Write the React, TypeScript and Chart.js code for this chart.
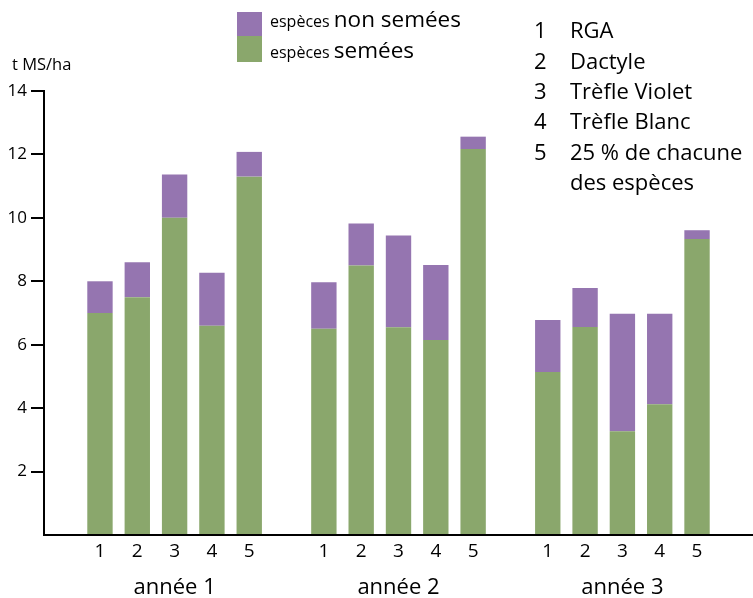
import React, { useEffect, useRef } from "react";
import { Chart, registerables } from "chart.js";

Chart.register(...registerables);

// ---- data ----
const years = ["année 1", "année 2", "année 3"];
const varieties = ["1", "2", "3", "4", "5"];
const seededY1 = [7.0, 7.5, 10.0, 6.6, 11.3];
const seededY2 = [6.5, 8.5, 6.55, 6.15, 12.17];
const seededY3 = [5.14, 6.56, 3.27, 4.12, 9.33];
const nonSeededY1 = [1.0, 1.1, 1.37, 1.67, 0.78];
const nonSeededY2 = [1.47, 1.32, 2.89, 2.36, 0.39];
const nonSeededY3 = [1.64, 1.23, 3.71, 2.86, 0.28];
const yTicks = [0, 2, 4, 6, 8, 10, 12, 14];
const yUnit = "t MS/ha";
const seriesSmall = ["espèces", "espèces"];
const seriesBig = ["non semées", "semées"];
const keyNumbers = ["1", "2", "3", "4", "5", ""];
const keyNames = ["RGA", "Dactyle", "Trèfle Violet", "Trèfle Blanc", "25 % de chacune", "des espèces"];

const GREEN = "#8aa76c";
const PURPLE = "#9575b0";
const FONT = "'Open Sans', sans-serif";

function spread(groups: number[][]): (number | null)[] {
  const out: (number | null)[] = [null];
  groups.forEach((g) => {
    g.forEach((v) => out.push(v));
    out.push(null);
  });
  return out;
}

const labels: string[] = [""];
years.forEach(() => {
  varieties.forEach((v) => labels.push(v));
  labels.push("");
});

export default function App() {
  const ref = useRef<HTMLCanvasElement | null>(null);
  useEffect(() => {
    if (!ref.current) return;
    const textPlugin = {
      id: "texts",
      afterDraw(chart: any) {
        const ctx = chart.ctx as CanvasRenderingContext2D;
        ctx.save();
        ctx.fillStyle = "#000";
        ctx.textBaseline = "alphabetic";
        ctx.textAlign = "left";
        // unit
        ctx.font = `16.5px ${FONT}`;
        ctx.fillText(yUnit, 12, 70);
        // series legend
        ctx.fillStyle = PURPLE;
        ctx.fillRect(237, 12, 25, 24);
        ctx.fillStyle = GREEN;
        ctx.fillRect(237, 36, 25, 26);
        ctx.fillStyle = "#000";
        const bases = [27, 58];
        for (let i = 0; i < 2; i++) {
          ctx.font = `16px ${FONT}`;
          ctx.fillText(seriesSmall[i], 270, bases[i]);
          const w = ctx.measureText(seriesSmall[i] + " ").width;
          ctx.font = `22.5px ${FONT}`;
          ctx.fillText(seriesBig[i], 270 + w, bases[i]);
        }
        // key list
        ctx.font = `22px ${FONT}`;
        for (let i = 0; i < keyNames.length; i++) {
          const y = 38.3 + i * 30.3;
          ctx.fillText(keyNumbers[i], 534, y);
          ctx.fillText(keyNames[i], 570, y);
        }
        // year labels
        const xs = chart.scales.x;
        ctx.textAlign = "center";
        ctx.font = `22px ${FONT}`;
        years.forEach((yr, i) => {
          const idx = 1 + i * (varieties.length + 1) + 2;
          ctx.fillText(yr, xs.getPixelForValue(idx), 594);
        });
        ctx.restore();
      },
    };
    const chart = new Chart(ref.current, {
      type: "bar",
      data: {
        labels,
        datasets: [
          {
            label: seriesBig[1],
            data: spread([seededY1, seededY2, seededY3]),
            backgroundColor: GREEN,
            borderWidth: 0,
            barPercentage: 0.68,
            categoryPercentage: 1,
          },
          {
            label: seriesBig[0],
            data: spread([nonSeededY1, nonSeededY2, nonSeededY3]),
            backgroundColor: PURPLE,
            borderWidth: 0,
            barPercentage: 0.68,
            categoryPercentage: 1,
          },
        ],
      },
      options: {
        responsive: false,
        animation: false,
        layout: { padding: { top: 91, right: 0, left: 0, bottom: 0 } },
        plugins: { legend: { display: false }, tooltip: { enabled: false } },
        scales: {
          x: {
            stacked: true,
            grid: { display: false, drawTicks: false },
            border: { display: true, color: "#000", width: 2 },
            ticks: { font: { family: FONT, size: 19 }, color: "#000", padding: 5, maxRotation: 0, autoSkip: false },
            afterFit(scale: any) {
              scale.height = 63;
            },
          },
          y: {
            stacked: true,
            min: yTicks[0],
            max: yTicks[yTicks.length - 1],
            afterBuildTicks(scale: any) {
              scale.ticks = yTicks.map((v) => ({ value: v }));
            },
            grid: {
              drawOnChartArea: false,
              drawTicks: true,
              tickLength: 13,
              lineWidth: 2,
              color: (c: any) => (c.tick && c.tick.value === 0 ? "rgba(0,0,0,0)" : "#000"),
            },
            border: { display: true, color: "#000", width: 2 },
            ticks: {
              font: { family: FONT, size: 17 },
              color: "#000",
              padding: 4,
              callback: (v: any) => (v === 0 ? "" : String(v)),
            },
            afterFit(scale: any) {
              scale.width = 44;
            },
          },
        },
      },
      plugins: [textPlugin],
    });
    return () => chart.destroy();
  }, []);
  return (
    <div style={{ position: "absolute", left: 0, top: 0, width: 753, height: 598 }}>
      <canvas ref={ref} width={753} height={598} />
    </div>
  );
}
